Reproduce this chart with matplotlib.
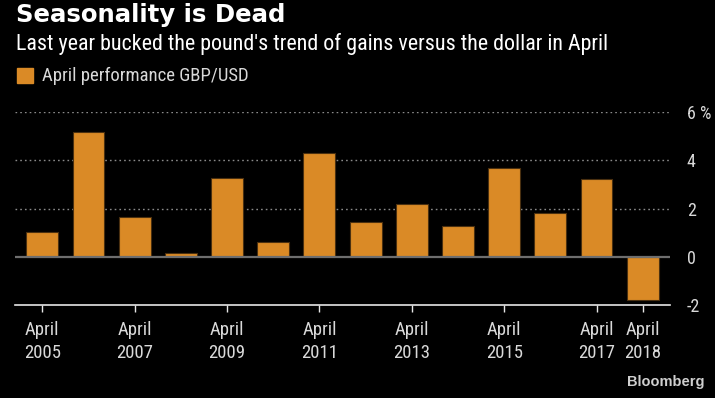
import matplotlib.pyplot as plt
from matplotlib import font_manager

# April GBP/USD performance (%)
years = [2005, 2006, 2007, 2008, 2009, 2010, 2011, 2012, 2013, 2014, 2015, 2016, 2017, 2018]
values = [1.02, 5.19, 1.67, 0.18, 3.28, 0.60, 4.32, 1.43, 2.20, 1.27, 3.67, 1.80, 3.24, -1.78]
tick_years = [2005, 2007, 2009, 2011, 2013, 2015, 2017, 2018]
y_ticks = [-2, 0, 2, 4, 6]
y_labels = ["-2", "0", "2", "4", "6 %"]

installed = {f.name for f in font_manager.fontManager.ttflist}
narrow = [f for f in ["Liberation Sans Narrow", "DejaVu Sans Condensed", "Roboto Condensed"] if f in installed]
plt.rcParams["font.family"] = narrow + ["Liberation Sans", "DejaVu Sans"]

W, H = 715, 398
fig = plt.figure(figsize=(W / 100, H / 100), dpi=100, facecolor="black")
ax = fig.add_axes([15 / W, 1 - 305.3 / H, (670 - 15) / W, (305.3 - 112) / H])
ax.set_facecolor("black")

orange = "#DA8A26"
txt = "#d9d9d9"

x = list(range(len(years)))
ax.bar(x, values, width=0.69, color=orange, edgecolor="#4a3010", linewidth=0.8, zorder=3)

for yv in [2, 4, 6]:
    ax.axhline(yv, color="#8a8a8a", ls=(0, (1.2, 2.2)), lw=1.0, zorder=1)
ax.axhline(0, color="#6e6e6e", lw=1.6, zorder=4)

ax.set_xlim(-0.59, 13.59)
ax.set_ylim(-2, 6)

for s in ["top", "left", "right"]:
    ax.spines[s].set_visible(False)
ax.spines["bottom"].set_color("#e6e6e6")
ax.spines["bottom"].set_linewidth(1.2)

ax.set_xticks([years.index(y) for y in tick_years])
ax.set_xticklabels([f"April\n{y}" for y in tick_years], color=txt, fontsize=13.5, linespacing=1.4)
ax.tick_params(axis="x", colors="#e6e6e6", length=5, width=1, pad=6, labelcolor=txt)

ax.yaxis.tick_right()
ax.set_yticks(y_ticks)
ax.set_yticklabels(y_labels, color=txt, fontsize=13)
ax.tick_params(axis="y", length=0, pad=12, labelcolor=txt)
for lab in ax.get_yticklabels():
    lab.set_horizontalalignment("left")

fig.text(16 / W, 1 - 15 / H, "Seasonality is Dead", color="white", fontsize=17.6,
         fontweight="bold", va="center", ha="left", family=["DejaVu Sans"])
fig.text(16 / W, 1 - 44 / H, "Last year bucked the pound's trend of gains versus the dollar in April",
         color="white", fontsize=15.8, va="center", ha="left")

fig.patches.append(plt.Rectangle((17 / W, 1 - 83 / H), 16 / W, 15 / H, color=orange,
                                 transform=fig.transFigure, figure=fig))
fig.text(42 / W, 1 - 76 / H, "April performance GBP/USD", color=txt, fontsize=13.5,
         va="center", ha="left")

fig.text(705 / W, 1 - 382 / H, "Bloomberg", color="#cfcfcf", fontsize=10.5,
         fontweight="bold", va="center", ha="right", family=["Liberation Sans", "DejaVu Sans"])

fig.savefig("out.png", dpi=100, facecolor="black")
